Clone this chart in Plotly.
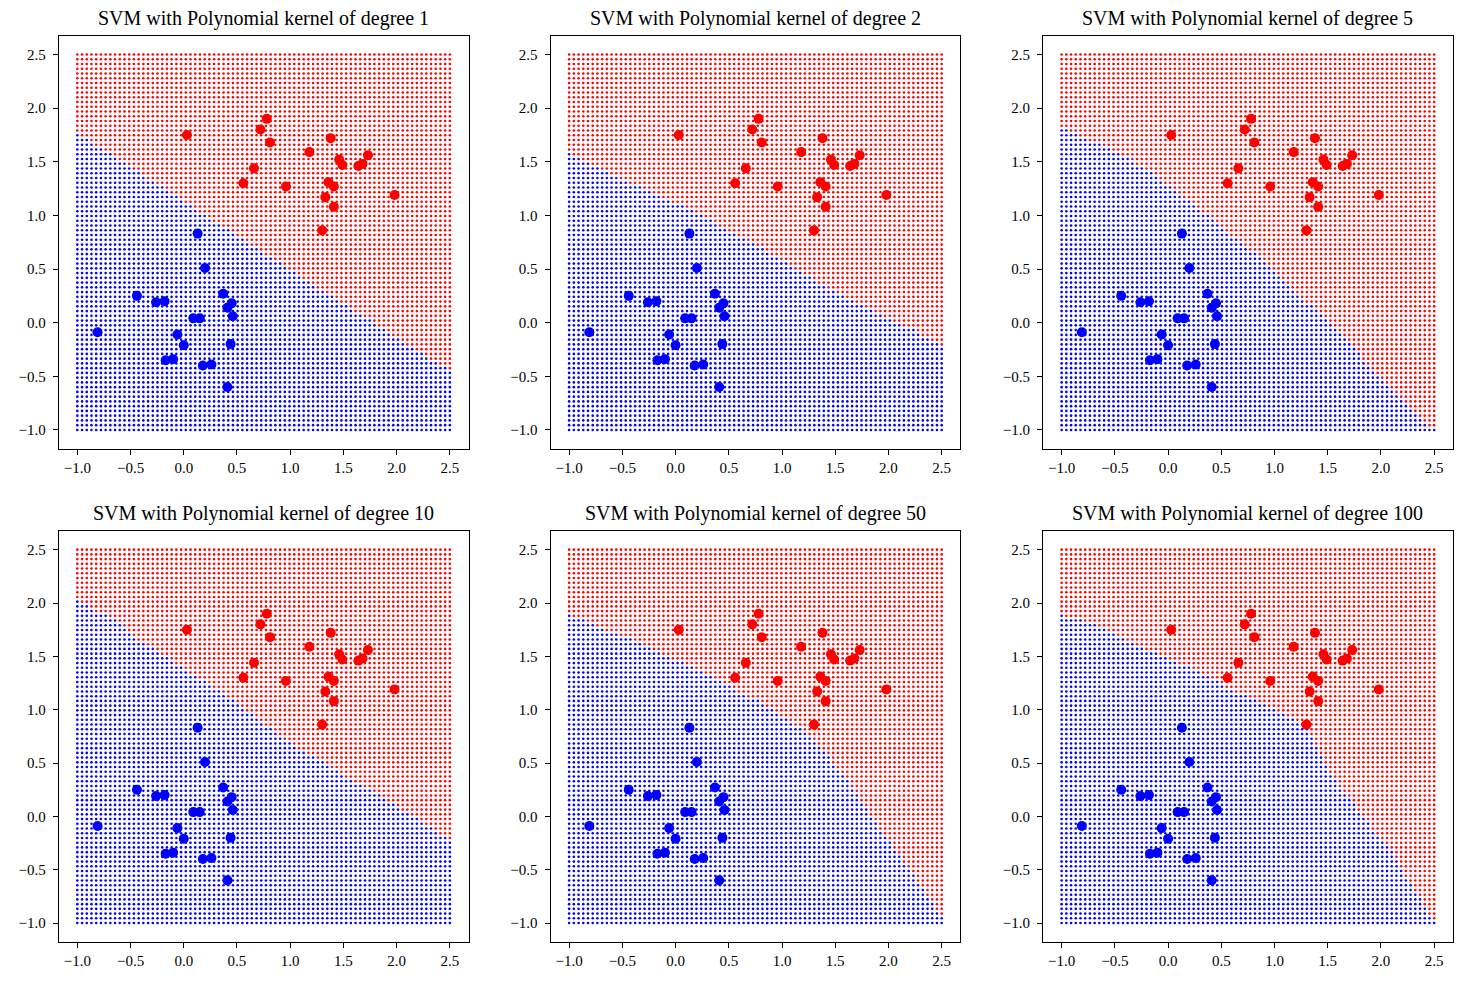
import numpy as np
import plotly.graph_objects as go

# ---------------- data ----------------
degrees = [1, 2, 5, 10, 50, 100]

red_x = [0.03, 0.78, 0.72, 0.81, 1.18, 1.38, 1.46, 1.49, 1.64, 1.68, 1.73, 0.66, 0.56, 0.96, 1.36, 1.41, 1.33, 1.41, 1.98, 1.30]
red_y = [1.75, 1.90, 1.80, 1.68, 1.59, 1.72, 1.52, 1.47, 1.46, 1.48, 1.56, 1.44, 1.30, 1.27, 1.31, 1.27, 1.17, 1.08, 1.19, 0.86]

blue_x = [0.13, 0.20, -0.44, -0.26, -0.18, 0.37, 0.45, 0.41, 0.46, 0.09, 0.15, -0.81, -0.06, 0.00, 0.44, -0.17, -0.10, 0.18, 0.26, 0.41]
blue_y = [0.83, 0.51, 0.25, 0.19, 0.20, 0.27, 0.18, 0.14, 0.06, 0.04, 0.04, -0.09, -0.11, -0.21, -0.20, -0.35, -0.34, -0.40, -0.39, -0.60]

# decision boundaries (x positions, boundary y values)
bnd_x = {
    1: [-1.0, 0.0, 1.0, 2.0, 2.5],
    2: [-1.0, -0.83, -0.55, -0.24, 0.08, 0.39, 0.70, 1.01, 1.32, 1.64, 1.95, 2.26, 2.5],
    5: [-1.0, -0.79, -0.54, -0.29, -0.10, 0.12, 0.30, 0.51, 0.68, 0.90, 1.11, 1.33, 1.52, 1.74, 1.95, 2.24, 2.5],
    10: [-1.0, -0.84, -0.65, -0.46, -0.21, 0.04, 0.29, 0.54, 0.79, 1.04, 1.28, 1.53, 1.78, 2.03, 2.28, 2.5],
    50: [-1.0, -0.85, -0.64, -0.42, -0.23, -0.01, 0.21, 0.39, 0.61, 0.80, 0.98, 1.20, 1.33, 1.42, 1.55, 1.67, 1.79, 1.92, 2.04, 2.17, 2.32, 2.5],
    100: [-1.0, -0.79, -0.54, -0.26, 0.02, 0.21, 0.43, 0.62, 0.83, 1.02, 1.24, 1.33, 1.42, 1.52, 1.67, 1.80, 1.92, 2.11, 2.24, 2.36, 2.5],
}
bnd_y = {
    1: [1.77, 1.13, 0.49, -0.14, -0.45],
    2: [1.57, 1.49, 1.36, 1.22, 1.08, 0.92, 0.75, 0.58, 0.38, 0.22, 0.05, -0.08, -0.22],
    5: [1.82, 1.72, 1.62, 1.48, 1.36, 1.19, 1.06, 0.89, 0.74, 0.58, 0.36, 0.17, -0.01, -0.23, -0.48, -0.76, -1.0],
    10: [2.02, 1.93, 1.84, 1.67, 1.53, 1.36, 1.20, 1.03, 0.84, 0.65, 0.54, 0.36, 0.23, 0.08, -0.08, -0.22],
    50: [1.88, 1.83, 1.74, 1.66, 1.57, 1.47, 1.38, 1.29, 1.16, 1.07, 0.94, 0.82, 0.69, 0.57, 0.42, 0.26, 0.07, -0.11, -0.27, -0.46, -0.67, -0.95],
    100: [1.89, 1.84, 1.72, 1.59, 1.47, 1.39, 1.28, 1.17, 1.09, 1.00, 0.89, 0.80, 0.61, 0.42, 0.20, 0.05, -0.11, -0.33, -0.57, -0.76, -1.0],
}

tick_vals = [-1.0, -0.5, 0.0, 0.5, 1.0, 1.5, 2.0, 2.5]
grid_n = 80
grid_lo, grid_hi = -1.0, 2.5

# ---------------- figure ----------------
W, H = 1468, 983
col_left = [58.7, 550.5, 1043.0]
panel_w = 409.8
row_top = [35.7, 531.0]
panel_h = [413.0, 410.7]

fig = go.Figure()
gx = np.linspace(grid_lo, grid_hi, grid_n)
GX, GY = np.meshgrid(gx, gx)
GX = GX.ravel()
GY = GY.ravel()

font_family = "Liberation Serif"

for i, deg in enumerate(degrees):
    r, c = divmod(i, 3)
    ax = "" if i == 0 else str(i + 1)
    xd = [col_left[c] / W, (col_left[c] + panel_w) / W]
    yd = [1 - (row_top[r] + panel_h[r]) / H, 1 - row_top[r] / H]
    b = np.interp(GX, bnd_x[deg], bnd_y[deg])
    is_red = GY > b
    fig.add_trace(go.Scatter(x=GX[is_red], y=GY[is_red], mode="markers",
                             marker=dict(color="red", size=2.6, line=dict(width=0)),
                             xaxis="x" + ax, yaxis="y" + ax, showlegend=False, hoverinfo="skip"))
    fig.add_trace(go.Scatter(x=GX[~is_red], y=GY[~is_red], mode="markers",
                             marker=dict(color="blue", size=2.6, line=dict(width=0)),
                             xaxis="x" + ax, yaxis="y" + ax, showlegend=False, hoverinfo="skip"))
    fig.add_trace(go.Scatter(x=red_x, y=red_y, mode="markers",
                             marker=dict(color="red", size=10, line=dict(width=0)),
                             xaxis="x" + ax, yaxis="y" + ax, showlegend=False))
    fig.add_trace(go.Scatter(x=blue_x, y=blue_y, mode="markers",
                             marker=dict(color="blue", size=10, line=dict(width=0)),
                             xaxis="x" + ax, yaxis="y" + ax, showlegend=False))
    axis_common = dict(range=[-1.175, 2.675], tickvals=tick_vals, tickformat=".1f",
                       showgrid=False, zeroline=False, showline=True, linecolor="black",
                       linewidth=1, mirror=True, ticks="outside", ticklen=5,
                       tickcolor="black", tickfont=dict(family=font_family, size=15, color="black"))
    fig.update_layout(**{
        "xaxis" + ax: dict(domain=xd, anchor="y" + ax, **axis_common),
        "yaxis" + ax: dict(domain=yd, anchor="x" + ax, ticklabelstandoff=4, **axis_common),
    })
    fig.add_annotation(text=f"SVM with Polynomial kernel of degree {deg}",
                       x=(xd[0] + xd[1]) / 2, y=yd[1], xref="paper", yref="paper",
                       xanchor="center", yanchor="bottom", yshift=4, showarrow=False,
                       font=dict(family=font_family, size=20, color="black"))

fig.update_layout(width=W, height=H, margin=dict(l=0, r=0, t=0, b=0),
                  plot_bgcolor="white", paper_bgcolor="white")
fig.write_html("out.html", config={"displayModeBar": False},
               post_script="document.body.style.margin='0';document.body.style.overflow='hidden';")
